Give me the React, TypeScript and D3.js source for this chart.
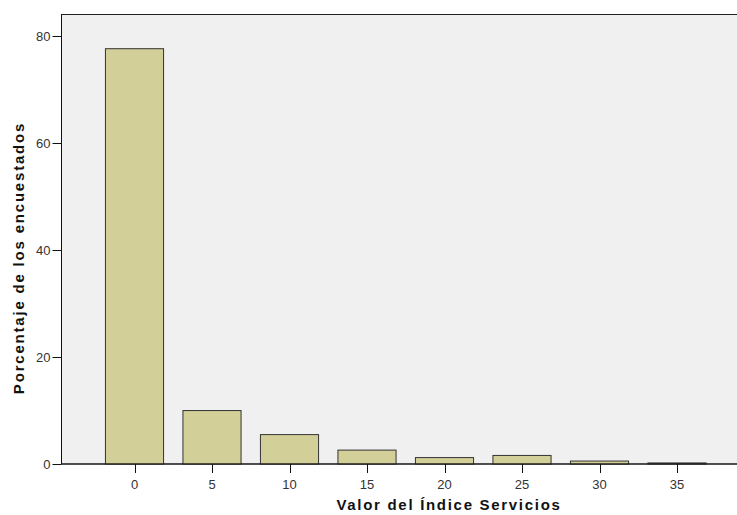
import React from "react";
import * as d3 from "d3";

const categories = [0, 5, 10, 15, 20, 25, 30, 35];
const values = [77.7, 10.0, 5.5, 2.6, 1.2, 1.6, 0.55, 0.2];
const yTicks = [0, 20, 40, 60, 80];
const xTitle = "Valor del Índice Servicios";
const yTitle = "Porcentaje de los encuestados";

export default function App() {
  const W = 737, H = 515;
  const left = 61.5, top = 14.5, bottom = 464;
  const x = d3.scaleLinear().domain([0, 35]).range([134.5, 677]);
  const y = d3.scaleLinear().domain([0, 84.1]).range([bottom, top]);
  const bw = (x(5) - x(0)) * 0.75;
  return (
    <svg width={W} height={H} style={{ position: "absolute", left: 0, top: 0 }}>
      <rect x={0} y={0} width={W} height={H} fill="#ffffff" />
      <rect x={left} y={top} width={W - left + 5} height={bottom - top} fill="#f0f0f0" stroke="#222" strokeWidth={1} />
      {categories.map((c, i) => (
        <rect key={c} x={x(c) - bw / 2} y={y(values[i])} width={bw} height={bottom - y(values[i])}
          fill="#d3cf98" stroke="#333" strokeWidth={1} />
      ))}
      <line x1={left} x2={W} y1={bottom} y2={bottom} stroke="#111" />
      <line x1={left} x2={left} y1={top} y2={bottom} stroke="#111" />
      {yTicks.map(t => (
        <g key={t}>
          <line x1={left - 9} x2={left} y1={Math.round(y(t)) + 0.5} y2={Math.round(y(t)) + 0.5} stroke="#111" />
          <text x={left - 11} y={y(t) + 5} textAnchor="end" fontFamily="Liberation Sans, Arial, sans-serif" fontSize={13} fill="#333">{t}</text>
        </g>
      ))}
      {categories.map(c => (
        <g key={"t" + c}>
          <line x1={Math.round(x(c)) + 0.5} x2={Math.round(x(c)) + 0.5} y1={bottom} y2={bottom + 9} stroke="#111" />
          <text x={x(c)} y={bottom + 25} textAnchor="middle" fontFamily="Liberation Sans, Arial, sans-serif" fontSize={13} fill="#333">{c}</text>
        </g>
      ))}
      <text x={449} y={510} textAnchor="middle" fontFamily="Liberation Sans, Arial, sans-serif" fontSize={15} fontWeight="bold" letterSpacing={1.7} fill="#111">{xTitle}</text>
      <text transform={`translate(24,258) rotate(-90)`} textAnchor="middle" fontFamily="Liberation Sans, Arial, sans-serif" fontSize={15} fontWeight="bold" letterSpacing={1.8} fill="#111">{yTitle}</text>
    </svg>
  );
}
